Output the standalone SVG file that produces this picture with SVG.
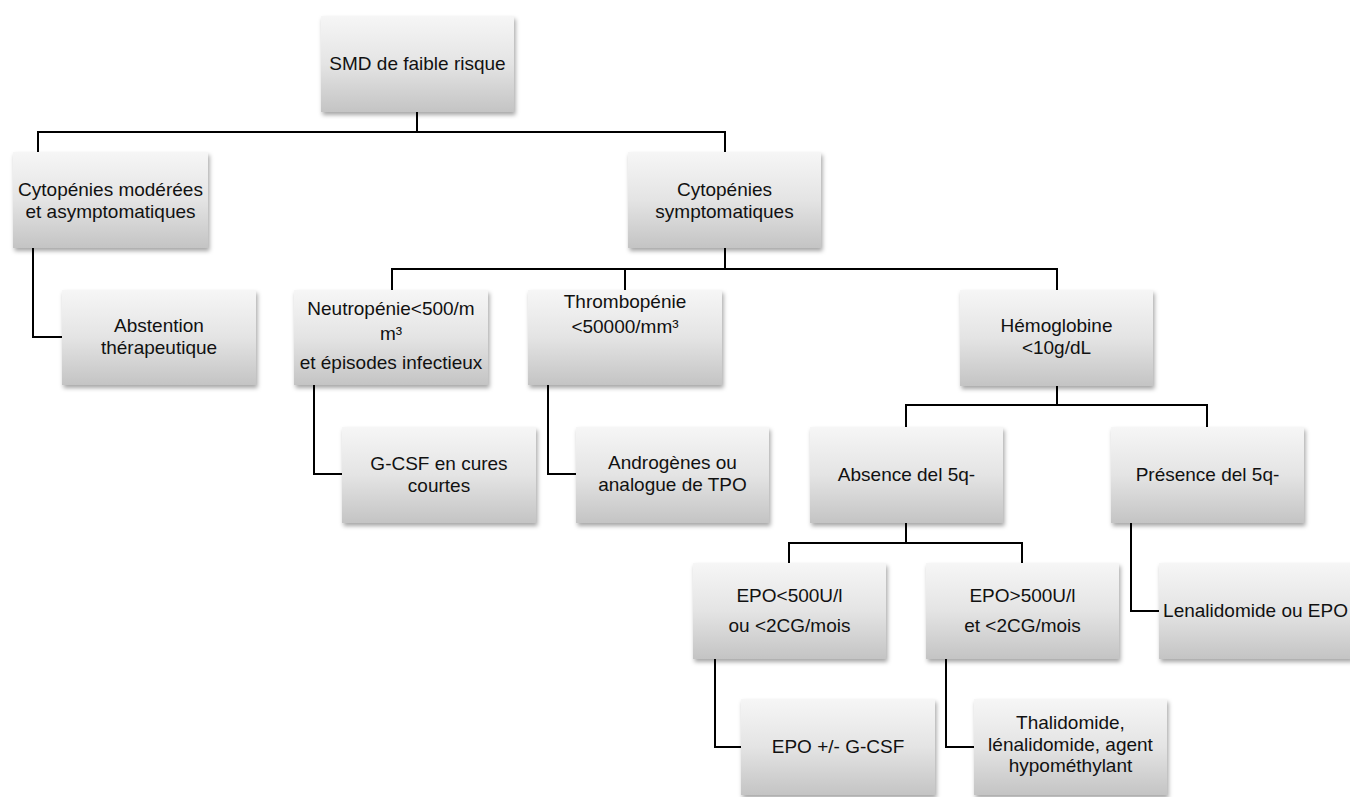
<svg xmlns="http://www.w3.org/2000/svg" width="1350" height="797" viewBox="0 0 1350 797">
<defs>
<linearGradient id="g" x1="0" y1="0" x2="0" y2="1">
<stop offset="0" stop-color="#f6f6f6"/>
<stop offset="0.5" stop-color="#e4e4e4"/>
<stop offset="1" stop-color="#c4c4c4"/>
</linearGradient>
<filter id="sh" x="-10%" y="-10%" width="125%" height="130%">
<feDropShadow dx="1.5" dy="3" stdDeviation="2.2" flood-color="#000" flood-opacity="0.35"/>
</filter>
<style>
.box{fill:url(#g);filter:url(#sh);}
text{font-family:"Liberation Sans",Arial,sans-serif;font-size:19px;fill:#111;text-anchor:middle;}
.c{stroke:#000;stroke-width:2;fill:none;}
</style>
</defs>
<rect width="1350" height="797" fill="#fff"/>
<g id="connectors">
<path class="c" d="M417 112V132M38 152V132H725V152"/>
<path class="c" d="M33 248V337H62"/>
<path class="c" d="M725 248V269M392 290V269H1057V290M625 269V290"/>
<path class="c" d="M314 385V474H342"/>
<path class="c" d="M548 385V474H576"/>
<path class="c" d="M1057 386V405M906 427V405H1207V427"/>
<path class="c" d="M906 523V543M789 563V543H1022V563"/>
<path class="c" d="M1131 523V611H1159"/>
<path class="c" d="M715 659V747H741"/>
<path class="c" d="M946 659V747H974"/>
</g>
<g id="n-smd"><rect class="box" x="321" y="16" width="193" height="96"/><text x="417.5" y="70">SMD de faible risque</text></g>
<g id="n-moderees"><rect class="box" x="13" y="152" width="195" height="96"/><text x="110.5" y="196">Cytopénies modérées</text><text x="110.5" y="218">et asymptomatiques</text></g>
<g id="n-symptomatiques"><rect class="box" x="628" y="152" width="193" height="96"/><text x="724.5" y="196">Cytopénies</text><text x="724.5" y="218">symptomatiques</text></g>
<g id="n-abstention"><rect class="box" x="62" y="290" width="194" height="95"/><text x="159" y="332">Abstention</text><text x="159" y="354">thérapeutique</text></g>
<g id="n-neutropenie"><rect class="box" x="294" y="290" width="194" height="95"/><text x="391" y="315">Neutropénie&lt;500/m</text><text x="391" y="340">m³</text><text x="391" y="369">et épisodes infectieux</text></g>
<g id="n-thrombopenie"><rect class="box" x="528" y="290" width="194" height="95"/><text x="625" y="308">Thrombopénie</text><text x="625" y="333">&lt;50000/mm³</text></g>
<g id="n-hemoglobine"><rect class="box" x="960" y="290" width="193" height="96"/><text x="1056.5" y="332">Hémoglobine</text><text x="1056.5" y="354">&lt;10g/dL</text></g>
<g id="n-gcsf"><rect class="box" x="342" y="427" width="194" height="96"/><text x="439" y="470">G-CSF en cures</text><text x="439" y="492">courtes</text></g>
<g id="n-androgenes"><rect class="box" x="576" y="427" width="193" height="96"/><text x="672.5" y="469">Androgènes ou</text><text x="672.5" y="491">analogue de TPO</text></g>
<g id="n-absence"><rect class="box" x="810" y="427" width="193" height="96"/><text x="906.5" y="481">Absence del 5q-</text></g>
<g id="n-presence"><rect class="box" x="1111" y="427" width="193" height="96"/><text x="1207.5" y="481">Présence del 5q-</text></g>
<g id="n-epo-inf"><rect class="box" x="693" y="563" width="193" height="96"/><text x="789.5" y="602">EPO&lt;500U/l</text><text x="789.5" y="632">ou &lt;2CG/mois</text></g>
<g id="n-epo-sup"><rect class="box" x="926" y="563" width="193" height="96"/><text x="1022.5" y="602">EPO&gt;500U/l</text><text x="1022.5" y="632">et &lt;2CG/mois</text></g>
<g id="n-lenalidomide"><rect class="box" x="1159" y="563" width="193" height="96"/><text x="1255.5" y="617">Lenalidomide ou EPO</text></g>
<g id="n-epo-gcsf"><rect class="box" x="741" y="699" width="194" height="96"/><text x="838" y="753">EPO +/- G-CSF</text></g>
<g id="n-thalidomide"><rect class="box" x="974" y="699" width="193" height="96"/><text x="1070.5" y="729">Thalidomide,</text><text x="1070.5" y="751">lénalidomide, agent</text><text x="1070.5" y="772">hypométhylant</text></g>
</svg>
